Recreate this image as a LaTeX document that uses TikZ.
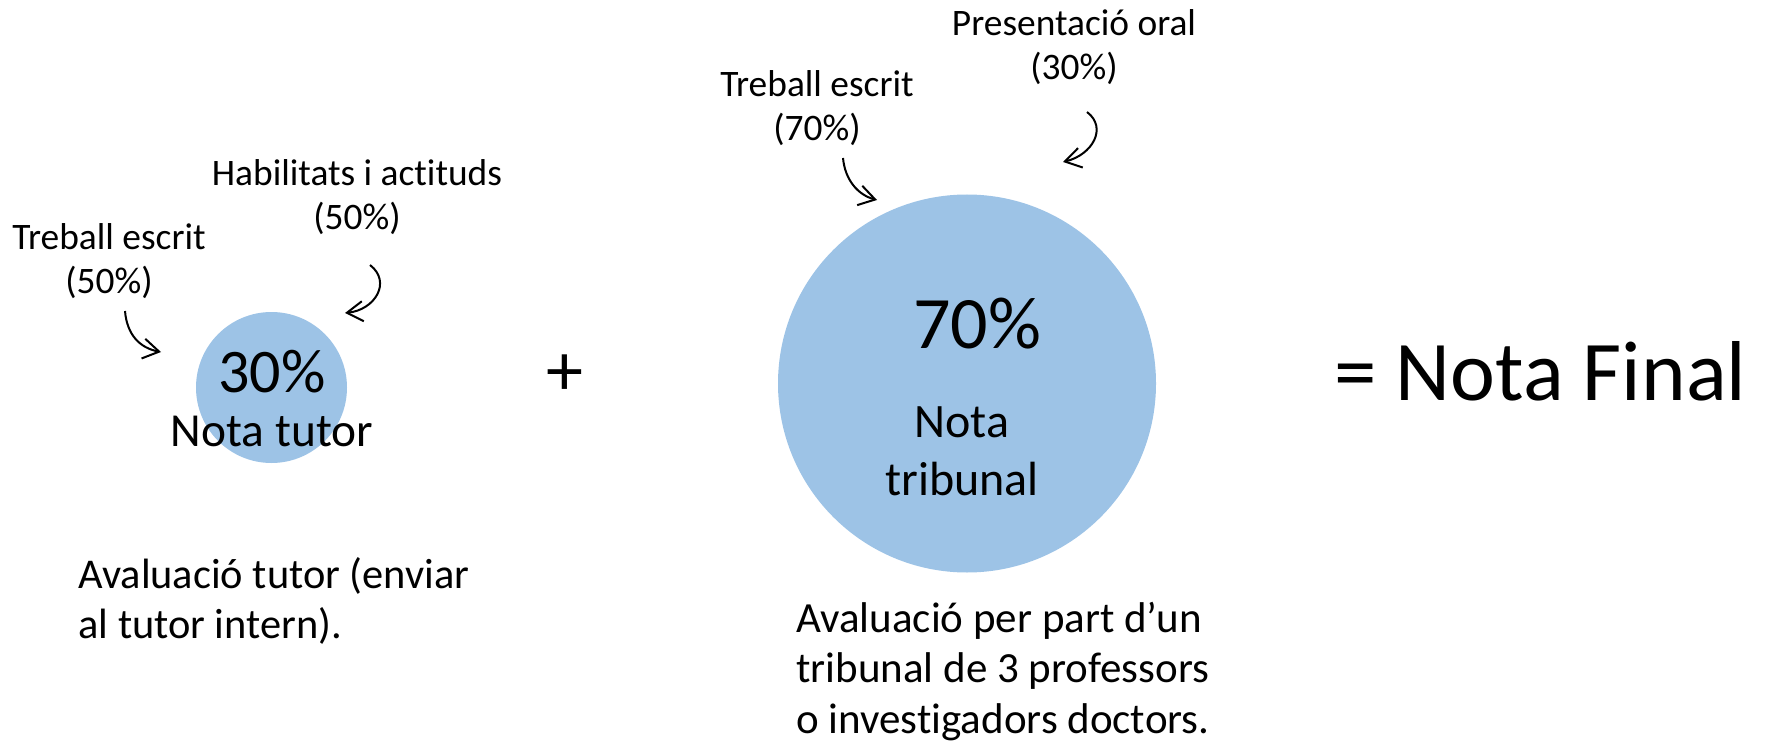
\documentclass[tikz,border=0pt]{standalone}
\usepackage{fontspec}
\setmainfont{Carlito}[Ligatures=NoCommon]
\usetikzlibrary{arrows.meta}
\definecolor{circblue}{HTML}{9DC3E6}
\begin{document}
\begin{tikzpicture}[x=0.5pt,y=-0.5pt,
  lbl/.style={font=\fontsize{18.7}{22}\selectfont, align=center, inner sep=0pt, anchor=base},
  circ/.style={circle, fill=circblue, draw=none, inner sep=0pt},
  arr/.style={line width=1pt, -{Straight Barb[length=8pt,width=10pt]}}]
\useasboundingbox (0,0) rectangle (1766,743);
% circles
\node[circ, minimum size=75.5pt] (c1) at (271.5,387.5) {};
\node[circ, minimum size=189pt] (c2) at (967,383.5) {};
% circle texts
\node[inner sep=0pt, anchor=base, font=\fontsize{31}{36}\selectfont] (p30) at (272,392) {30\%};
\node[inner sep=0pt, anchor=base, font=\fontsize{23.7}{28}\selectfont] (nt) at (272,446) {Nota tutor};
\node[inner sep=0pt, anchor=base, font=\fontsize{37}{44}\selectfont] (p70) at (977,348) {70\%};
\node[inner sep=0pt, anchor=base, align=center, font=\fontsize{24}{29}\selectfont] (ntr) at (962,495) {Nota\\tribunal};
% labels (anchor = baseline of last line)
\node[lbl] (l1) at (109,293) {Treball escrit\\(50\%)};
\node[lbl] (l2) at (357,230) {Habilitats i actituds\\(50\%)};
\node[lbl] (l3) at (817,141) {Treball escrit\\(70\%)};
\node[lbl] (l4) at (1074,80) {Presentació oral\\(30\%)};
% plus and result
\node[inner sep=0pt, font=\fontsize{37}{44}\selectfont] (plus) at (565,375) {+};
\node[inner sep=0pt, anchor=base west, font=\fontsize{42.5}{50}\selectfont] (fin) at (1334,400) {= Nota Final};
% bottom texts
\node[inner sep=0pt, anchor=base west, align=left, font=\fontsize{21.2}{25}\selectfont] (b1) at (78,638) {Avaluació tutor (enviar\\al tutor intern).};
\node[inner sep=0pt, anchor=base west, align=left, font=\fontsize{21.5}{25.25}\selectfont] (b2) at (796,733) {Avaluació per part d’un\\tribunal de 3 professors\\o investigadors doctors.};
% arrows
\coordinate (a1s) at (125,311); \coordinate (a1e) at (161,352);
\coordinate (a2s) at (370,265); \coordinate (a2e) at (345,313);
\coordinate (a3s) at (843,158); \coordinate (a3e) at (877,200);
\coordinate (a4s) at (1087,112); \coordinate (a4e) at (1063,162);
\draw[arr] (a1s) .. controls (127,335) and (140,348) .. (a1e);
\draw[arr] (a2s) .. controls (392,282) and (375,310) .. (a2e);
\draw[arr] (a3s) .. controls (845,180) and (858,195) .. (a3e);
\draw[arr] (a4s) .. controls (1108,128) and (1092,155) .. (a4e);
\end{tikzpicture}
\end{document}
